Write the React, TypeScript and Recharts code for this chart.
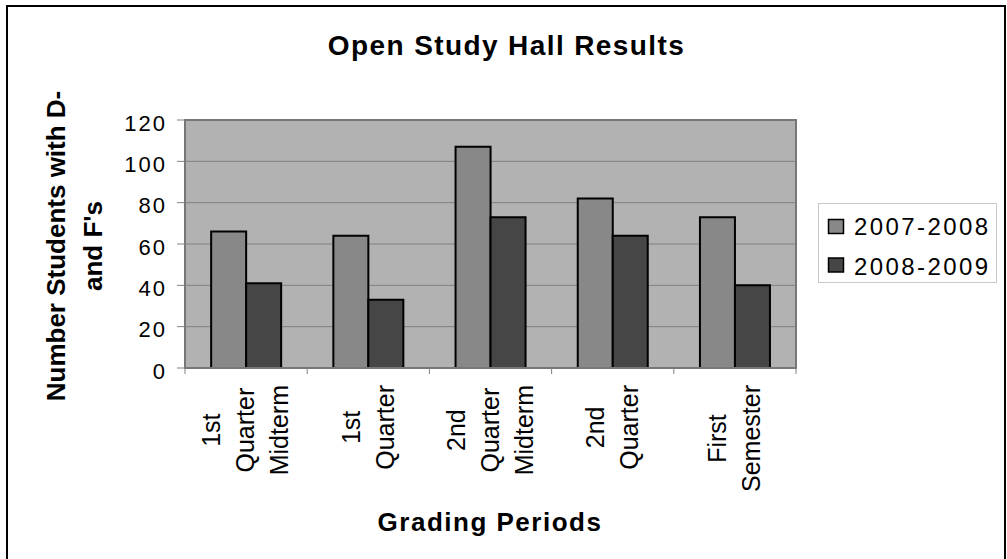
import * as React from 'react';
import { BarChart, Bar, XAxis, YAxis, CartesianGrid, ReferenceArea } from 'recharts';

// grading periods (wrapped on spaces for the axis labels)
const categories = ['1st Quarter Midterm', '1st Quarter', '2nd Quarter Midterm', '2nd Quarter', 'First Semester'];
const seriesNames = ['2007-2008', '2008-2009'];
const year0708 = [66, 64, 107, 82, 73];
const year0809 = [41, 33, 73, 64, 40];
const yTicks = [0, 20, 40, 60, 80, 100, 120];

const seriesColors = ['#888888', '#464646'];
const FONT = '"Liberation Sans", Arial, Helvetica, sans-serif';

const W = 1007;
const H = 559;
const X_TICK_SIZE = 6;
const X_TICK_MARGIN = 11;

const rows = categories.map((c, i) => ({ category: c, a: year0708[i], b: year0809[i] }));

let ctx: CanvasRenderingContext2D | null = null;
const textWidth = (s: string, size: number) => {
  if (!ctx && typeof document !== 'undefined') ctx = document.createElement('canvas').getContext('2d');
  if (!ctx) return s.length * size * 0.55;
  ctx.font = `${size}px "Liberation Sans", Arial, sans-serif`;
  return ctx.measureText(s).width;
};

function XTick(props: any) {
  const { x, y, payload, index, visibleTicksCount } = props;
  const half = payload && typeof payload.offset === 'number' && payload.offset > 0 ? payload.offset : (W - 211 - 185) / categories.length / 2;
  const axisY = y - X_TICK_SIZE - X_TICK_MARGIN;
  const lines = String(payload.value).split(' ');
  const n = lines.length;
  const longest = Math.max(...lines.map(l => textWidth(l, 25)));
  return (
    <g>
      <line x1={x - half} x2={x - half} y1={axisY} y2={axisY + X_TICK_SIZE} stroke="#808080" />
      {index === visibleTicksCount - 1 && (
        <line x1={x + half} x2={x + half} y1={axisY} y2={axisY + X_TICK_SIZE} stroke="#808080" />
      )}
      <g transform={`translate(${x},${y + longest / 2}) rotate(-90)`}>
        {lines.map((l, i) => (
          <text key={i} x={0} y={8.3 + (i - (n - 1) / 2) * 34} textAnchor="middle" fontSize={25} fill="#000" fontFamily={FONT}>
            {l}
          </text>
        ))}
      </g>
    </g>
  );
}

function YTick(props: any) {
  const { x, y, payload } = props;
  return (
    <text x={x} y={y} dy={10.5} textAnchor="end" fontSize={22} letterSpacing={2} fill="#000" fontFamily={FONT}>
      {payload.value}
    </text>
  );
}

export default function App() {
  return (
    <div style={{ position: 'absolute', left: 0, top: 0, width: W, height: H, overflow: 'hidden', background: '#fff', fontFamily: FONT }}>
      <div style={{ position: 'absolute', left: 6, top: 5, width: 1000, height: 620, border: '2px solid #000', boxSizing: 'border-box' }} />
      <div style={{ position: 'absolute', left: 0, top: 0 }}>
        <BarChart
          width={W}
          height={H}
          data={rows}
          margin={{ top: 120, right: 211, left: 0, bottom: 0 }}
          barCategoryGap="21.4%"
          barGap={0}
        >
          <CartesianGrid vertical={false} fill="#b2b2b2" stroke="#808080" strokeWidth={1} />
          <XAxis
            dataKey="category"
            interval={0}
            height={191}
            tickLine={false}
            tickSize={X_TICK_SIZE}
            tickMargin={X_TICK_MARGIN}
            axisLine={{ stroke: '#777', strokeWidth: 2 }}
            tick={<XTick />}
          />
          <YAxis
            width={185}
            domain={[0, 120]}
            ticks={yTicks}
            interval={0}
            tickSize={8}
            tickMargin={10}
            tickLine={{ stroke: '#808080' }}
            axisLine={{ stroke: '#777', strokeWidth: 2 }}
            tick={<YTick />}
          />
          <ReferenceArea y1={0} y2={120} fill="none" stroke="#777" strokeWidth={2} ifOverflow="visible" />
          <Bar dataKey="a" name={seriesNames[0]} fill={seriesColors[0]} stroke="#000" strokeWidth={2} isAnimationActive={false} />
          <Bar dataKey="b" name={seriesNames[1]} fill={seriesColors[1]} stroke="#000" strokeWidth={2} isAnimationActive={false} />
        </BarChart>
      </div>
      <svg width={W} height={H} style={{ position: 'absolute', left: 0, top: 0, pointerEvents: 'none' }}>
        <text x={506.5} y={55} textAnchor="middle" fontSize={28} fontWeight="bold" letterSpacing={1.4} fontFamily={FONT}>
          Open Study Hall Results
        </text>
        <g transform="translate(0,246) rotate(-90)">
          <text x={0} y={65} textAnchor="middle" fontSize={26} fontWeight="bold" fontFamily={FONT}>
            Number Students with D-
          </text>
          <text x={0} y={102} textAnchor="middle" fontSize={26} fontWeight="bold" fontFamily={FONT}>
            and F's
          </text>
        </g>
        <text x={490} y={530.5} textAnchor="middle" fontSize={26} fontWeight="bold" letterSpacing={1.5} fontFamily={FONT}>
          Grading Periods
        </text>
        <rect x={818.5} y={203.5} width={178} height={79} fill="#fff" stroke="#c8c8c8" strokeWidth={1} />
        {seriesNames.map((name, i) => (
          <g key={name}>
            <rect x={828.5} y={219.5 + i * 38.5} width={15} height={14} fill={seriesColors[i]} stroke="#000" strokeWidth={1.5} />
            <text x={854} y={235 + i * 39.5} fontSize={24} letterSpacing={2.4} fontFamily={FONT}>
              {name}
            </text>
          </g>
        ))}
      </svg>
    </div>
  );
}
